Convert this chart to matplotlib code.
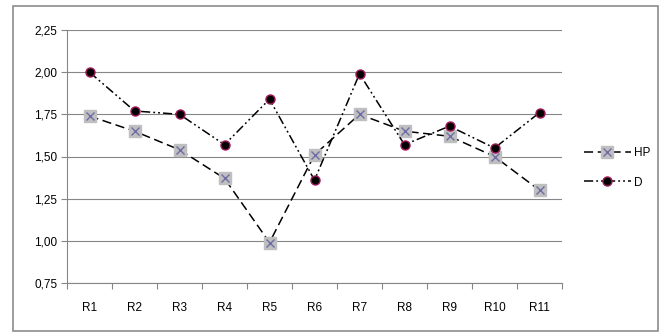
import numpy as np
import matplotlib

matplotlib.use("Agg")
import matplotlib.pyplot as plt
from matplotlib.patches import Rectangle
from matplotlib.legend_handler import HandlerTuple
from matplotlib.ticker import FuncFormatter, FixedLocator

# --- data ---
categories = ["R1", "R2", "R3", "R4", "R5", "R6", "R7", "R8", "R9", "R10", "R11"]
hp_values = [1.74, 1.65, 1.54, 1.37, 0.99, 1.51, 1.75, 1.65, 1.62, 1.50, 1.30]
d_values = [2.00, 1.77, 1.75, 1.57, 1.84, 1.36, 1.99, 1.57, 1.68, 1.55, 1.76]
y_ticks = [0.75, 1.00, 1.25, 1.50, 1.75, 2.00, 2.25]

AXIS = "#868686"
GRID = "#868686"

plt.rcParams.update({"font.family": ["Liberation Sans", "DejaVu Sans"], "font.size": 8.5})

fig = plt.figure(figsize=(6.65, 3.34), dpi=100)
ax = fig.add_axes([67 / 665, 1 - 283 / 334, 495 / 665, 253 / 334])

# outer chart border
fig.patches.append(
    Rectangle((13 / 665, 3 / 334), 645 / 665, 325 / 334, transform=fig.transFigure,
              fill=False, edgecolor="#8C8C8C", linewidth=1.2)
)

x = np.arange(len(categories))

hp_line, = ax.plot(x, hp_values, color="black", linewidth=1.1, linestyle=(0, (6, 3)),
                   marker="s", markersize=8, markerfacecolor="#BFBFBF",
                   markeredgecolor="#BFBFBF", zorder=3)
hp_x, = ax.plot(x, hp_values, linestyle="none", marker="x", markersize=6,
                markeredgecolor="#6E6EA6", markeredgewidth=1.0, zorder=4)
d_line, = ax.plot(x, d_values, color="black", linewidth=1.1,
                  linestyle=(0, (6, 2, 1.2, 2, 1.2, 2)),
                  marker="o", markersize=6.5, markerfacecolor="black",
                  markeredgecolor="#A0185A", markeredgewidth=1.0, zorder=5)

ax.set_xlim(-0.5, len(categories) - 0.5)
ax.set_ylim(0.75, 2.25)
ax.set_xticks(x)
ax.set_xticklabels(categories)
ax.xaxis.set_minor_locator(FixedLocator(np.arange(-0.5, len(categories), 1.0)))
ax.tick_params(axis="x", which="major", length=0, pad=14)
ax.tick_params(axis="x", which="minor", length=4, color=AXIS, width=0.8)
ax.set_yticks(y_ticks)
ax.yaxis.set_major_formatter(FuncFormatter(lambda v, _: f"{v:.2f}".replace(".", ",")))
ax.tick_params(axis="y", length=4, color=AXIS, width=0.8, pad=3)

ax.grid(axis="y", color=GRID, linewidth=0.8)
ax.set_axisbelow(True)
for s in ["top", "right"]:
    ax.spines[s].set_visible(False)
ax.spines["left"].set_color(AXIS)
ax.spines["bottom"].set_color(AXIS)
ax.spines["left"].set_linewidth(0.8)
ax.spines["bottom"].set_linewidth(0.8)

fig.legend([(hp_line, hp_x), d_line], ["HP", "D"],
           handler_map={tuple: HandlerTuple(ndivide=1)},
           loc="center left", bbox_to_anchor=(573 / 665, 1 - 168 / 334),
           frameon=False, handlelength=4.0, handletextpad=0.3, labelspacing=1.45,
           fontsize=8.5)

fig.savefig("out.png", dpi=100)
